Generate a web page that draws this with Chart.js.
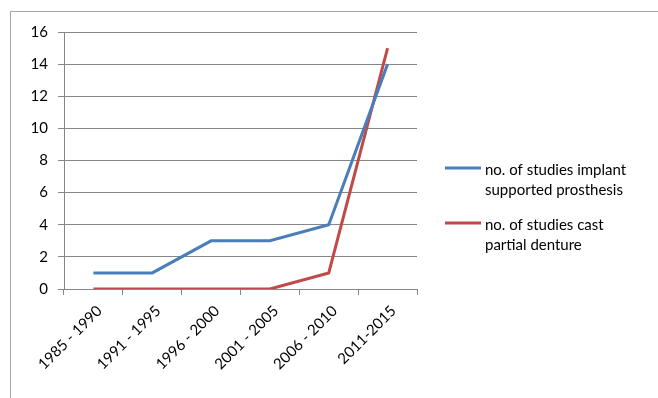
<!DOCTYPE html>
<html>
<head>
<meta charset="utf-8">
<script src="https://cdn.jsdelivr.net/npm/chart.js@4"></script>
<style>
  body { margin: 0; background: #fff; }
  #wrap { position: relative; width: 658px; height: 398px; }
  #frame { position: absolute; left: 10px; top: 11px; right: -2px; bottom: -2px; border: 1px solid #a6a6a6; }
  canvas { position: absolute; left: 0; top: 0; }
</style>
</head>
<body>
<div id="wrap">
  <div id="frame"></div>
  <canvas id="studiesChart" width="658" height="398"></canvas>
</div>
<script>
// periods and number of studies per period
const periods = ['1985 - 1990', '1991 - 1995', '1996 - 2000', '2001 - 2005', '2006 - 2010', '2011-2015'];
const implantStudies = [1, 1, 3, 3, 4, 14];
const castStudies = [0, 0, 0, 0, 1, 15];
const yTicks = [0, 2, 4, 6, 8, 10, 12, 14, 16];

const font = { family: 'Lato, "Open Sans", sans-serif', size: 15 };

// legend on the right, labels wrapped on two lines like Excel
const sideLegend = {
    id: 'sideLegend',
    afterDraw(chart) {
        const c = chart.ctx;
        const rows = [168, 223];
        c.save();
        c.font = font.size + 'px ' + font.family;
        c.textBaseline = 'middle';
        chart.data.datasets.forEach((ds, i) => {
            const y = rows[i];
            c.strokeStyle = ds.borderColor;
            c.lineWidth = 3;
            c.beginPath();
            c.moveTo(445, y);
            c.lineTo(481, y);
            c.stroke();
            c.fillStyle = '#000';
            ds.label.forEach((line, j) => c.fillText(line, 485, y + 2 + j * 20));
        });
        c.restore();
    }
};

const ctx = document.getElementById('studiesChart').getContext('2d');
const studiesChart = new Chart(ctx, {
    type: 'line',
    data: {
        labels: periods,
        datasets: [{
            label: ['no. of studies implant', 'supported prosthesis'],
            data: implantStudies,
            borderColor: '#4a7ebb',
            borderWidth: 3,
            pointRadius: 0,
            tension: 0
        }, {
            label: ['no. of studies cast', 'partial denture'],
            data: castStudies,
            borderColor: '#be4b48',
            borderWidth: 3,
            pointRadius: 0,
            tension: 0
        }]
    },
    options: {
        responsive: false,
        animation: false,
        layout: { padding: { left: 10, top: 32, right: 241, bottom: 0 } },
        plugins: {
            legend: { display: false },
            tooltip: { enabled: false }
        },
        scales: {
            x: {
                offset: true,
                grid: { offset: true, drawOnChartArea: false, drawTicks: true, tickLength: 6, color: '#868686' },
                border: { color: '#868686' },
                ticks: { color: '#000', font: font, minRotation: 45, maxRotation: 45, padding: 7, labelOffset: 6 },
                afterFit(scale) { scale.height = 109; }
            },
            y: {
                min: 0,
                max: 16,
                afterBuildTicks(scale) { scale.ticks = yTicks.map(v => ({ value: v })); },
                grid: { color: '#868686', tickLength: 6 },
                border: { color: '#868686' },
                ticks: { color: '#000', font: font, padding: 10 },
                afterFit(scale) { scale.width = 54; }
            }
        }
    },
    plugins: [sideLegend]
});
</script>
</body>
</html>
